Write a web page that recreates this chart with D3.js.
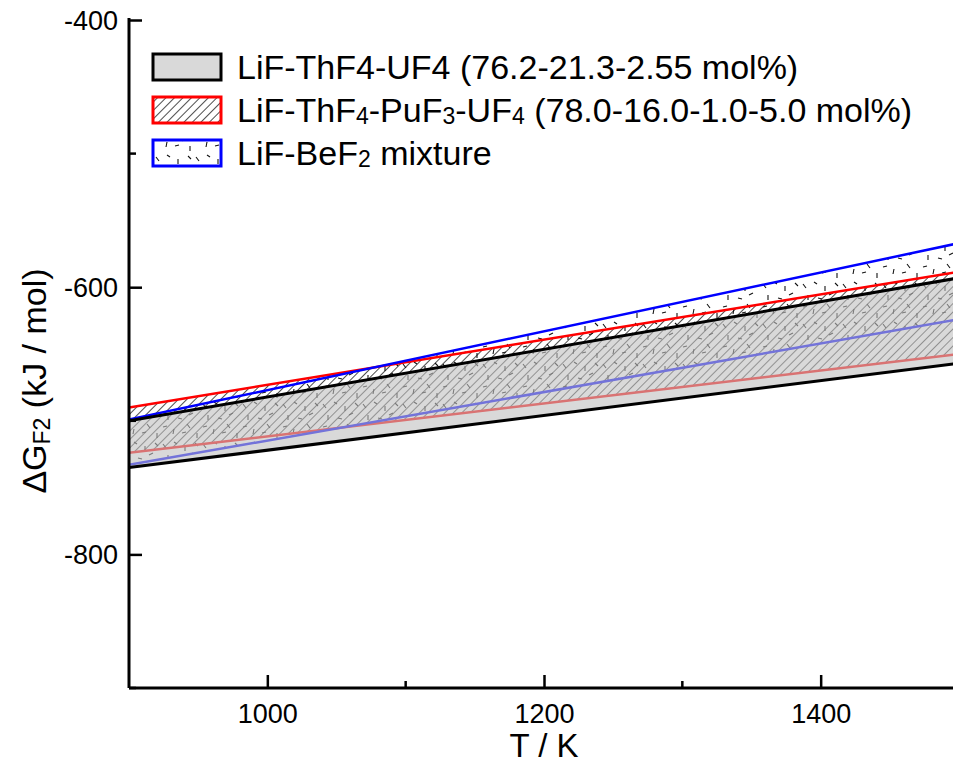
<!DOCTYPE html>
<html>
<head>
<meta charset="utf-8">
<script src="https://cdn.jsdelivr.net/npm/d3@7"></script>
<style>
  body { margin: 0; background: #fff; }
  svg { display: block; font-family: "Liberation Sans", Arial, sans-serif; }
</style>
</head>
<body>
<svg id="chart" width="953" height="764"></svg>
<script>
// temperature end points of each band (K)
const temps = [900, 1500];

// LiF-ThF4-UF4 band (kJ/mol)
const thUpper = [-700, -593];
const thLower = [-735, -657];

// LiF-ThF4-PuF3-UF4 band
const puUpper = [-690, -588.5];
const puLower = [-724, -650];

// LiF-BeF2 band
const beUpper = [-699, -567];
const beLower = [-733, -624];

const xMajor = [1000, 1200, 1400];
const xMinor = [1100, 1300];
const yMajor = [-400, -600, -800];
const yMinor = [-500, -700, -900];

const width = 953, height = 764;
const margin = { top: 20, right: -6, bottom: 76, left: 129 };

const svg = d3.select("#chart");

const x = d3.scaleLinear().domain([900, 1500]).range([margin.left, width - margin.right]);
const y = d3.scaleLinear().domain([-900, -400]).range([height - margin.bottom, margin.top]);

const defs = svg.append("defs");

// diagonal hatch for the Pu band
defs.append("pattern")
    .attr("id", "hatch")
    .attr("patternUnits", "userSpaceOnUse")
    .attr("width", 6).attr("height", 6)
    .attr("patternTransform", "rotate(45)")
  .append("line")
    .attr("x1", 0).attr("y1", 0).attr("x2", 0).attr("y2", 6)
    .attr("stroke", "#000").attr("stroke-width", 1.4);

// scattered short dashes for the Be band
const dashes = [
    [3, 4, 6, 8], [14, 2, 17, 4], [25, 6, 25, 11], [33, 13, 29, 15],
    [8, 15, 8, 20], [18, 18, 22, 19], [27, 24, 30, 28], [3, 27, 7, 26],
    [14, 29, 13, 34], [22, 33, 26, 32], [35, 3, 38, 6], [37, 33, 37, 38]
];
defs.append("pattern")
    .attr("id", "dashes")
    .attr("patternUnits", "userSpaceOnUse")
    .attr("width", 40).attr("height", 40)
    .selectAll("line")
    .data(dashes)
    .join("line")
    .attr("x1", d => d[0]).attr("y1", d => d[1])
    .attr("x2", d => d[2]).attr("y2", d => d[3])
    .attr("stroke", "#111").attr("stroke-width", 1.1);

defs.append("clipPath").attr("id", "plot-clip")
  .append("rect")
    .attr("x", margin.left).attr("y", margin.top)
    .attr("width", width - margin.left).attr("height", height - margin.bottom - margin.top);

function rows(upper, lower) {
    return temps.map((t, i) => ({ t: t, hi: upper[i], lo: lower[i] }));
}

const area = d3.area().x(d => x(d.t)).y0(d => y(d.lo)).y1(d => y(d.hi));
const lineHi = d3.line().x(d => x(d.t)).y(d => y(d.hi));
const lineLo = d3.line().x(d => x(d.t)).y(d => y(d.lo));

const plot = svg.append("g").attr("clip-path", "url(#plot-clip)");

const pu = rows(puUpper, puLower);
const be = rows(beUpper, beLower);
const th = rows(thUpper, thLower);

plot.append("path").datum(pu).attr("d", area).attr("fill", "url(#hatch)");
plot.append("path").datum(be).attr("d", area).attr("fill", "url(#dashes)");

[[pu, "#ff0000"], [be, "#0000ff"]].forEach(([d, c]) => {
    plot.append("path").datum(d).attr("d", lineHi).attr("fill", "none").attr("stroke", c).attr("stroke-width", 2.5);
    plot.append("path").datum(d).attr("d", lineLo).attr("fill", "none").attr("stroke", c).attr("stroke-width", 2.5);
});

// gray band sits on top, half see-through
plot.append("path").datum(th).attr("d", area).attr("fill", "#c0c0c0").attr("fill-opacity", 0.6);
plot.append("path").datum(th).attr("d", lineHi).attr("fill", "none").attr("stroke", "#000").attr("stroke-width", 3);
plot.append("path").datum(th).attr("d", lineLo).attr("fill", "none").attr("stroke", "#000").attr("stroke-width", 3);

// axes (plain hyphen minus like the original)
const fmt = d => String(d);

const xAxis = svg.append("g").attr("transform", `translate(0,${y(-900)})`);
xAxis.call(d3.axisBottom(x).tickValues(xMajor).tickSize(-13).tickFormat(fmt));
xAxis.append("g").selectAll("line").data(xMinor).join("line")
    .attr("x1", d => x(d)).attr("x2", d => x(d)).attr("y1", 0).attr("y2", -7)
    .attr("stroke", "#000").attr("stroke-width", 2.5);

const yAxis = svg.append("g").attr("transform", `translate(${margin.left},0)`);
yAxis.call(d3.axisLeft(y).tickValues(yMajor).tickSize(-13).tickFormat(fmt));
yAxis.append("g").selectAll("line").data(yMinor).join("line")
    .attr("y1", d => y(d)).attr("y2", d => y(d)).attr("x1", 0).attr("x2", 7)
    .attr("stroke", "#000").attr("stroke-width", 2.5);

[xAxis, yAxis].forEach(a => {
    a.select(".domain").attr("stroke", "#000").attr("stroke-width", 3);
    a.selectAll(".tick line").attr("stroke", "#000").attr("stroke-width", 2.5);
    a.selectAll(".tick text").attr("fill", "#000").attr("font-size", 27).attr("font-family", null);
});
xAxis.select(".domain").attr("d", `M${margin.left},0H${width}`);
yAxis.select(".domain").attr("d", `M0,${margin.top - 2}V${y(-900)}`);
xAxis.selectAll(".tick text").attr("y", 16).attr("dy", "0.71em");
yAxis.selectAll(".tick text").attr("x", -11).attr("dy", "0.35em");

// axis titles
svg.append("text")
    .attr("x", x(1200)).attr("y", 757)
    .attr("text-anchor", "middle").attr("font-size", 33)
    .text("T / K");

const yTitle = svg.append("text")
    .attr("transform", `translate(46,${(y(-400) + y(-900)) / 2 + 27}) rotate(-90)`)
    .attr("text-anchor", "middle").attr("font-size", 34);
yTitle.append("tspan").text("ΔG");
yTitle.append("tspan").attr("font-size", 23).attr("dy", 4).text("F2");
yTitle.append("tspan").attr("dy", -4).text("  (kJ / mol)");

// legend
const legendItems = [
    { parts: [["LiF-ThF4-UF4 (76.2-21.3-2.55 mol%)", false]], fill: "#d9d9d9", stroke: "#000" },
    { parts: [["LiF-ThF", false], ["4", true], ["-PuF", false], ["3", true], ["-UF", false], ["4", true], [" (78.0-16.0-1.0-5.0 mol%)", false]], fill: "url(#hatch)", stroke: "#ff0000" },
    { parts: [["LiF-BeF", false], ["2", true], [" mixture", false]], fill: "url(#dashes)", stroke: "#0000ff" }
];

const legend = svg.append("g");
const item = legend.selectAll("g").data(legendItems).join("g")
    .attr("transform", (d, i) => `translate(153,${67 + i * 43})`);

item.append("rect").attr("x", 0).attr("y", -13).attr("width", 68).attr("height", 26).attr("fill", "#fff");
item.append("rect")
    .attr("x", 0).attr("y", -13).attr("width", 68).attr("height", 26)
    .attr("fill", d => d.fill)
    .attr("stroke", d => d.stroke).attr("stroke-width", 3);

const label = item.append("text").attr("x", 84).attr("y", 12).attr("font-size", 34);
label.selectAll("tspan").data(d => d.parts).join("tspan")
    .attr("font-size", d => d[1] ? 23 : null)
    .attr("dy", (d, i, n) => {
        // subscripts drop a little and the next part comes back up
        const prev = i > 0 ? d3.select(n[i - 1]).datum()[1] : false;
        if (d[1] && !prev) return 2;
        if (!d[1] && prev) return -2;
        return 0;
    })
    .text(d => d[0]);
</script>
</body>
</html>
